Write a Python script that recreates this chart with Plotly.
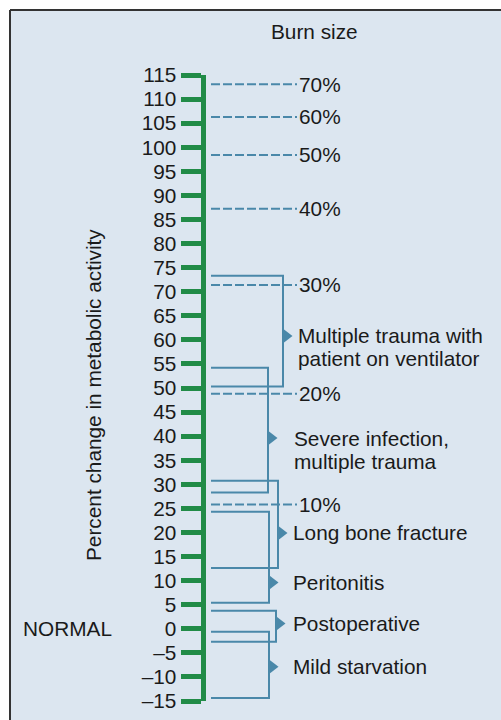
import plotly.graph_objects as go

# ---------------- data ----------------
tick_values = [115, 110, 105, 100, 95, 90, 85, 80, 75, 70, 65, 60, 55, 50, 45,
               40, 35, 30, 25, 20, 15, 10, 5, 0, -5, -10, -15]
tick_labels = ["115", "110", "105", "100", "95", "90", "85", "80", "75", "70",
               "65", "60", "55", "50", "45", "40", "35", "30", "25", "20",
               "15", "10", "5", "0", "\u20135", "\u201310", "\u201315"]

burn_labels = ["70%", "60%", "50%", "40%", "30%", "20%", "10%"]
burn_values = [113.1, 106.3, 98.4, 87.2, 71.4, 48.8, 25.8]

conditions = ["Multiple trauma with|patient on ventilator",
              "Severe infection,|multiple trauma",
              "Long bone fracture",
              "Peritonitis",
              "Postoperative",
              "Mild starvation"]
cond_top = [73.3, 54.2, 30.75, 24.3, 3.75, -0.6]
cond_bottom = [50.3, 28.3, 12.6, 5.4, -2.7, -14.4]
cond_arrow = [60.8, 39.6, 19.9, 9.6, 1.1, -7.9]

normal_value = 0

# ---------------- style / layout ----------------
W, H = 501, 720
GREEN = "#218b47"
BLUE = "#4a88a9"
BG = "#dce6f0"
TXT = "#1a1a1a"
BORDER = "#333333"
FONT = "Liberation Sans, Arial, sans-serif"
FS = 20.8

line_x0 = 211          # left start of dashed / bracket lines (px)
dash_x1 = 297          # right end of dashed lines (px)
burn_label_x = 297
bracket_x = [283, 268, 278, 269, 276, 269]
label_x = [296, 292, 291, 291, 291, 291]
axis_x = 202.5
box_left = 10
box_top = 10

fig = go.Figure()

# burn size dashed lines
for v in burn_values:
    fig.add_trace(go.Scatter(
        x=[line_x0, dash_x1], y=[v, v], mode="lines",
        line=dict(color=BLUE, width=2, dash="9px,3px"),
        hoverinfo="skip", showlegend=False))

# condition brackets
for top, bot, xv in zip(cond_top, cond_bottom, bracket_x):
    fig.add_trace(go.Scatter(
        x=[line_x0, xv, xv, line_x0], y=[top, top, bot, bot], mode="lines",
        line=dict(color=BLUE, width=2),
        hoverinfo="skip", showlegend=False))

# arrows
fig.add_trace(go.Scatter(
    x=[xv + 3 for xv in bracket_x], y=cond_arrow, mode="markers",
    marker=dict(symbol="triangle-right", size=13, color=BLUE, line=dict(width=0)),
    hoverinfo="skip", showlegend=False))

annotations = []
for lab, v in zip(burn_labels, burn_values):
    annotations.append(dict(x=burn_label_x, y=v, xref="x", yref="y", text=lab,
                            showarrow=False, xanchor="left", yanchor="middle",
                            font=dict(size=FS, color=TXT, family=FONT)))

for lab, v, lx in zip(conditions, cond_arrow, label_x):
    parts = lab.split("|")
    for i, p in enumerate(parts):
        annotations.append(dict(x=lx, y=v, xref="x", yref="y", text=p,
                                showarrow=False, xanchor="left", yanchor="middle",
                                yshift=-23 * i,
                                font=dict(size=FS, color=TXT, family=FONT)))

annotations.append(dict(x=21, y=normal_value, xref="x", yref="y", text="NORMAL",
                        showarrow=False, xanchor="left", yanchor="middle",
                        font=dict(size=FS, color=TXT, family=FONT)))

annotations.append(dict(x=314.5 / W, y=(H - 32) / H, xref="paper", yref="paper",
                        text="Burn size", showarrow=False,
                        xanchor="center", yanchor="middle",
                        font=dict(size=FS, color=TXT, family=FONT)))

annotations.append(dict(x=93 / W, y=(H - 395) / H, xref="paper", yref="paper",
                        text="Percent change in metabolic activity", textangle=-90,
                        showarrow=False, xanchor="center", yanchor="middle",
                        font=dict(size=FS, color=TXT, family=FONT)))

ytop = (H - box_top) / H
xl = box_left / W
shapes = [
    dict(type="rect", xref="paper", yref="paper", x0=xl, x1=1.0, y0=0.0, y1=ytop,
         fillcolor=BG, line=dict(width=0), layer="below"),
    dict(type="line", xref="paper", yref="paper", x0=xl, x1=1.0, y0=ytop, y1=ytop,
         line=dict(color=BORDER, width=2), layer="above"),
    dict(type="line", xref="paper", yref="paper", x0=xl, x1=xl, y0=0.0, y1=ytop,
         line=dict(color=BORDER, width=2), layer="above"),
]

fig.update_layout(
    width=W, height=H,
    margin=dict(l=0, r=0, t=0, b=0, autoexpand=False),
    paper_bgcolor="white",
    plot_bgcolor="rgba(0,0,0,0)",
    showlegend=False,
    annotations=annotations,
    shapes=shapes,
    xaxis=dict(range=[0, W], domain=[0, 1], visible=False, fixedrange=True,
               automargin=False),
    yaxis=dict(range=[-15, 115], domain=[19 / H, 645 / H],
               anchor="free", position=axis_x / W, side="left",
               automargin=False,
               showgrid=False, zeroline=False,
               showline=True, linecolor=GREEN, linewidth=5,
               ticks="outside", ticklen=20, tickwidth=5, tickcolor=GREEN,
               tickmode="array", tickvals=tick_values, ticktext=tick_labels,
               tickfont=dict(size=FS, color=TXT, family=FONT),
               fixedrange=True),
)

post = (
    "document.body.style.margin='0px';"
    "var gd=document.getElementById('{plot_id}');"
    "gd.style.position='absolute';gd.style.top='0px';gd.style.left='0px';"
)

fig.write_html(
    "out.html",
    config={"displayModeBar": False, "responsive": False},
    post_script=post,
)
